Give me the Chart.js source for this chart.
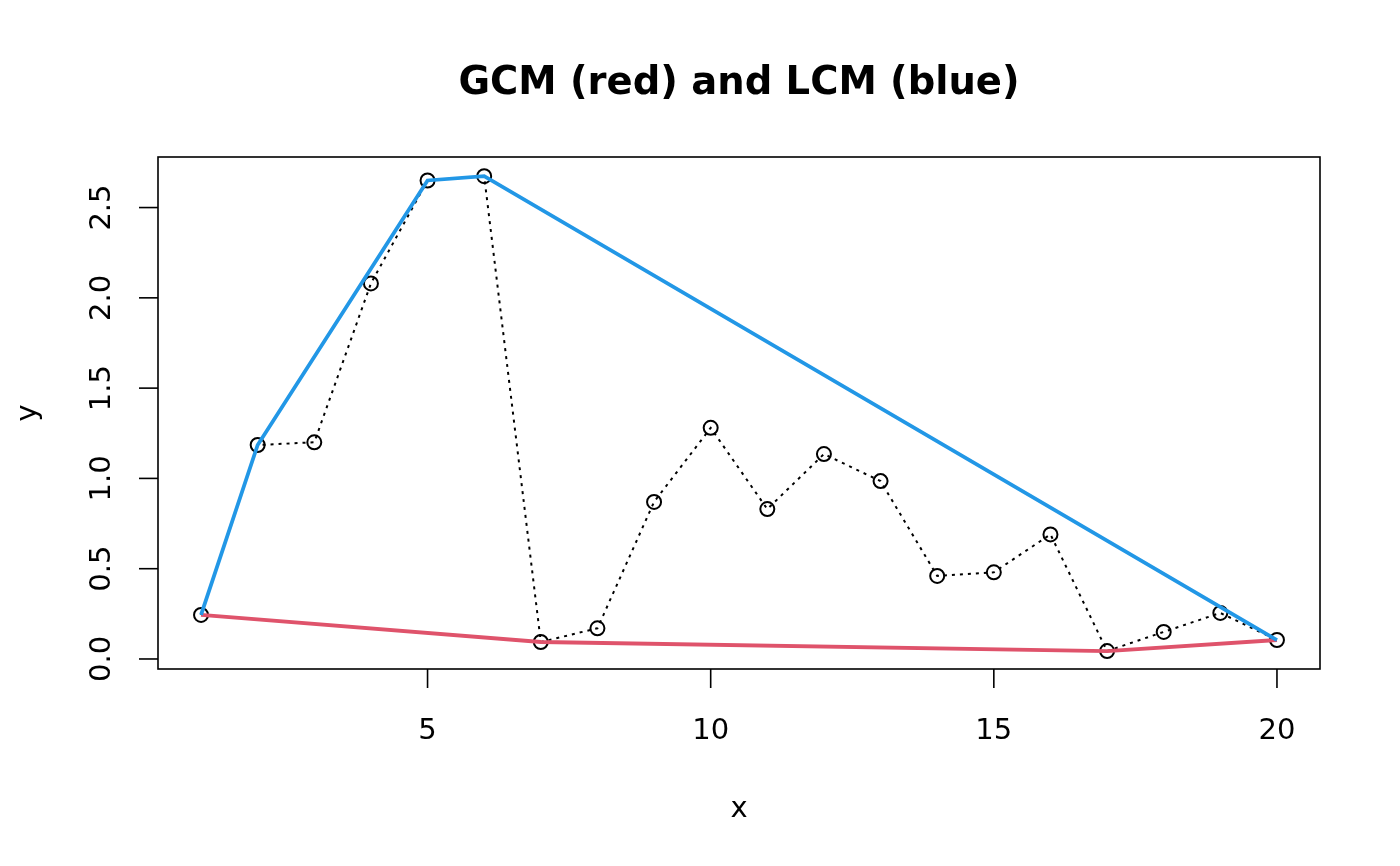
<!DOCTYPE html>
<html>
<head>
<meta charset="utf-8">
<script src="https://cdn.jsdelivr.net/npm/chart.js@4.4.1/dist/chart.umd.min.js"></script>
<style>
  body { margin: 0; background: #fff; }
  canvas { display: block; }
</style>
</head>
<body>
<canvas id="gcmChart" width="1400" height="866"></canvas>
<script>
// observed series
const xValues = [1, 2, 3, 4, 5, 6, 7, 8, 9, 10, 11, 12, 13, 14, 15, 16, 17, 18, 19, 20];
const yValues = [0.244, 1.185, 1.20, 2.08, 2.65, 2.674, 0.094, 0.17, 0.87, 1.28,
                 0.83, 1.135, 0.985, 0.46, 0.48, 0.69, 0.044, 0.15, 0.255, 0.105];

// greatest convex minorant (red) and least concave majorant (blue)
const gcmX = [1, 7, 17, 20];
const gcmY = [0.244, 0.094, 0.044, 0.105];
const lcmX = [1, 2, 5, 6, 20];
const lcmY = [0.244, 1.185, 2.65, 2.674, 0.105];

const xTicks = [5, 10, 15, 20];
const yTicks = [0, 0.5, 1, 1.5, 2, 2.5];

const toPoints = (xs, ys) => xs.map((x, i) => ({ x: x, y: ys[i] }));

const FONT = "'DejaVu Sans', sans-serif";

// R-style box, ticks and labels drawn from the chart's scales
const baseAxes = {
  id: "baseAxes",
  afterDraw(chart) {
    const ctx = chart.ctx;
    const area = chart.chartArea;
    const xs = chart.scales.x;
    const ys = chart.scales.y;
    const tickLen = 19;

    ctx.save();
    ctx.strokeStyle = "#000";
    ctx.lineWidth = 1.6;
    ctx.strokeRect(area.left, area.top, area.right - area.left, area.bottom - area.top);

    ctx.fillStyle = "#000";
    ctx.font = "29px " + FONT;

    // x axis
    ctx.textAlign = "center";
    ctx.textBaseline = "alphabetic";
    xTicks.forEach(function (v) {
      const px = xs.getPixelForValue(v);
      ctx.beginPath();
      ctx.moveTo(px, area.bottom);
      ctx.lineTo(px, area.bottom + tickLen);
      ctx.stroke();
      ctx.fillText(String(v), px, 739);
    });

    // y axis
    yTicks.forEach(function (v) {
      const py = ys.getPixelForValue(v);
      ctx.beginPath();
      ctx.moveTo(area.left, py);
      ctx.lineTo(area.left - tickLen, py);
      ctx.stroke();
      ctx.save();
      ctx.translate(110, py);
      ctx.rotate(-Math.PI / 2);
      ctx.fillText(v.toFixed(1), 0, 0);
      ctx.restore();
    });

    // axis titles
    ctx.fillText("x", (area.left + area.right) / 2, 817);
    ctx.save();
    ctx.translate(36, (area.top + area.bottom) / 2);
    ctx.rotate(-Math.PI / 2);
    ctx.fillText("y", 0, 0);
    ctx.restore();

    // main title
    ctx.font = "bold 38.5px " + FONT;
    ctx.fillText("GCM (red) and LCM (blue)", (area.left + area.right) / 2, 94);
    ctx.restore();
  }
};

new Chart(document.getElementById("gcmChart"), {
  type: "scatter",
  data: {
    datasets: [
      {
        label: "LCM",
        data: toPoints(lcmX, lcmY),
        showLine: true,
        borderColor: "#2297E6",
        borderWidth: 3.8,
        pointRadius: 0,
        order: 1
      },
      {
        label: "GCM",
        data: toPoints(gcmX, gcmY),
        showLine: true,
        borderColor: "#DF536B",
        borderWidth: 3.8,
        pointRadius: 0,
        order: 2
      },
      {
        label: "y",
        data: toPoints(xValues, yValues),
        showLine: true,
        borderColor: "#000",
        borderWidth: 2,
        borderDash: [3, 5],
        pointRadius: 7,
        pointBorderWidth: 2,
        pointBorderColor: "#000",
        pointBackgroundColor: "rgba(0,0,0,0)",
        order: 3
      }
    ]
  },
  options: {
    responsive: false,
    animation: false,
    devicePixelRatio: 1,
    layout: { padding: { left: 158, top: 157, right: 80, bottom: 197 } },
    plugins: {
      legend: { display: false },
      title: { display: false },
      tooltip: { enabled: false }
    },
    scales: {
      x: { type: "linear", display: false, min: 0.24, max: 20.76 },
      y: { type: "linear", display: false, min: -0.0555, max: 2.78 }
    }
  },
  plugins: [baseAxes]
});
</script>
</body>
</html>
